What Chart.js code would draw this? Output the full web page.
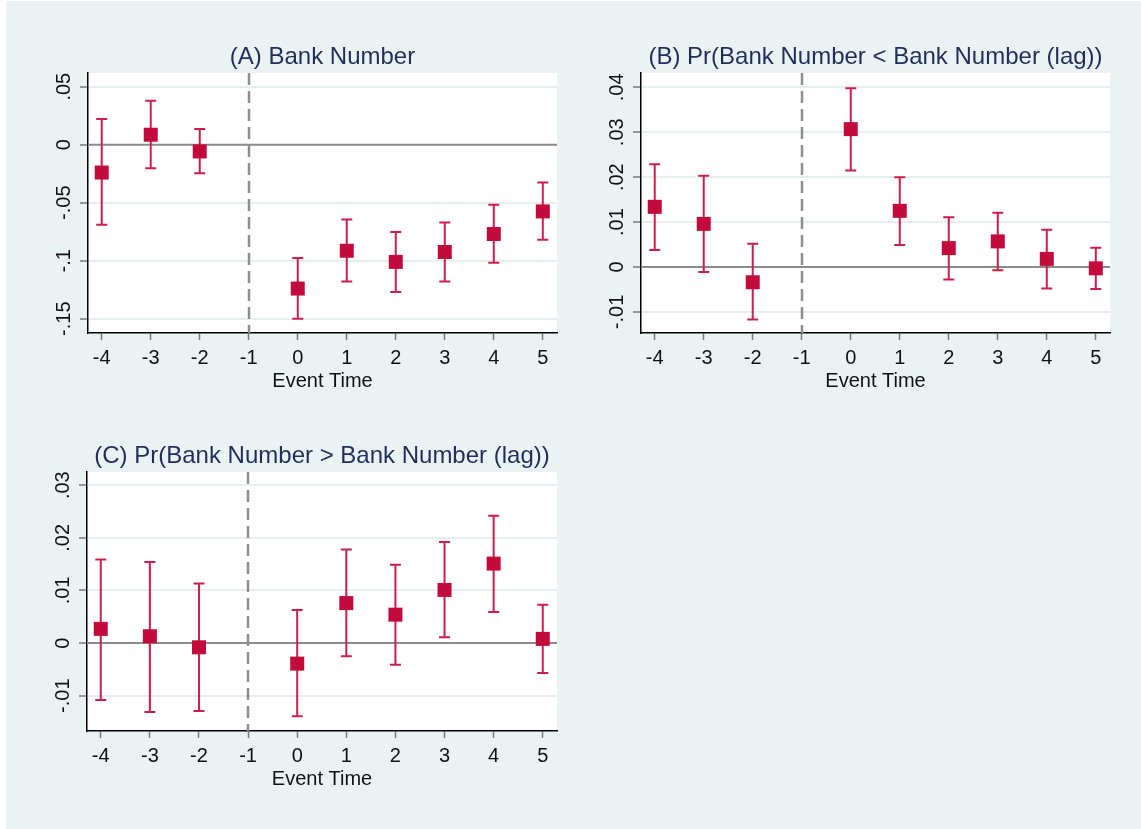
<!DOCTYPE html>
<html>
<head>
<meta charset="utf-8">
<script src="https://cdn.jsdelivr.net/npm/chart.js@4.4.1/dist/chart.umd.min.js"></script>
<style>
  html, body { margin: 0; padding: 0; background: #ffffff; }
  body { width: 1141px; height: 829px; position: relative; overflow: hidden; }
  #bg { position: absolute; left: 6px; top: 1px; width: 1135px; height: 828px; background: #EAF2F3; }
  .box { position: absolute; }
  .box canvas { display: block; }
</style>
</head>
<body>
<div id="bg"></div>
<div class="box" id="boxA" style="left:0px;top:0px;width:580px;height:400px;"><canvas id="cA"></canvas></div>
<div class="box" id="boxB" style="left:560px;top:0px;width:581px;height:400px;"><canvas id="cB"></canvas></div>
<div class="box" id="boxC" style="left:0px;top:400px;width:580px;height:429px;"><canvas id="cC"></canvas></div>
<script>
// ---------------- DATA ----------------
const xTicks = [-4, -3, -2, -1, 0, 1, 2, 3, 4, 5];
const xTickLabels = ['-4', '-3', '-2', '-1', '0', '1', '2', '3', '4', '5'];
const eventTimes = [-4, -3, -2, 0, 1, 2, 3, 4, 5];
const xAxisTitle = 'Event Time';

const titleA = '(A) Bank Number';
const coefA = [-0.0240, 0.0086, -0.0058, -0.1240, -0.0914, -0.1010, -0.0925, -0.0770, -0.0575];
const loA   = [-0.0690, -0.0204, -0.0247, -0.1500, -0.1180, -0.1270, -0.1180, -0.1017, -0.0819];
const hiA   = [0.0221, 0.0379, 0.0135, -0.0977, -0.0644, -0.0753, -0.0670, -0.0517, -0.0325];
const yTicksA = [-0.15, -0.1, -0.05, 0, 0.05];
const yLabelsA = ['-.15', '-.1', '-.05', '0', '.05'];

const titleB = '(B) Pr(Bank Number < Bank Number (lag))';
const coefB = [0.0134, 0.0096, -0.0034, 0.0307, 0.0125, 0.0042, 0.0057, 0.0018, -0.0003];
const loB   = [0.0038, -0.0011, -0.0117, 0.0215, 0.0049, -0.0028, -0.0007, -0.0048, -0.0049];
const hiB   = [0.0229, 0.0203, 0.0052, 0.0398, 0.0200, 0.0111, 0.0121, 0.0083, 0.0043];
const yTicksB = [-0.01, 0, 0.01, 0.02, 0.03, 0.04];
const yLabelsB = ['-.01', '0', '.01', '.02', '.03', '.04'];

const titleC = '(C) Pr(Bank Number > Bank Number (lag))';
const coefC = [0.0027, 0.0013, -0.0008, -0.0039, 0.0076, 0.0054, 0.0101, 0.0151, 0.0008];
const loC   = [-0.0108, -0.0131, -0.0129, -0.0139, -0.0025, -0.0041, 0.0011, 0.0059, -0.0057];
const hiC   = [0.0159, 0.0154, 0.0113, 0.0063, 0.0178, 0.0149, 0.0192, 0.0242, 0.0073];
const yTicksC = [-0.01, 0, 0.01, 0.02, 0.03];
const yLabelsC = ['-.01', '0', '.01', '.02', '.03'];

const eventLine = -1;

// ---------------- STYLE ----------------
const FONT = "'Liberation Sans', Arial, Helvetica, sans-serif";
const MARK = '#C20A3C';
const BAR = '#CD1E4B';
const TITLE_COLOR = '#1F2E5A';

Chart.defaults.devicePixelRatio = 1;

const stataPlugin = {
  id: 'stata',
  beforeDraw(chart) {
    const a = chart.chartArea, ctx = chart.ctx;
    ctx.save();
    ctx.fillStyle = '#ffffff';
    ctx.fillRect(a.left, a.top, a.right - a.left, a.bottom - a.top);
    ctx.restore();
  },
  beforeDatasetsDraw(chart) {
    const a = chart.chartArea, ctx = chart.ctx;
    const xs = chart.scales.x, ys = chart.scales.y;
    const meta = chart.config.options.plugins.stata;
    ctx.save();
    // zero line
    const y0 = ys.getPixelForValue(0);
    ctx.strokeStyle = '#8C8C8C';
    ctx.lineWidth = 2;
    ctx.beginPath(); ctx.moveTo(a.left, y0); ctx.lineTo(a.right, y0); ctx.stroke();
    // dashed event line
    const xe = Math.round(xs.getPixelForValue(eventLine));
    ctx.strokeStyle = '#8E8E8E';
    ctx.lineWidth = 2.5;
    ctx.setLineDash([12, 6]);
    ctx.beginPath(); ctx.moveTo(xe, a.top); ctx.lineTo(xe, a.bottom); ctx.stroke();
    ctx.setLineDash([]);
    // error bars
    ctx.strokeStyle = BAR;
    ctx.lineWidth = 2;
    for (let i = 0; i < eventTimes.length; i++) {
      const px = xs.getPixelForValue(eventTimes[i]);
      const pl = ys.getPixelForValue(meta.lo[i]);
      const ph = ys.getPixelForValue(meta.hi[i]);
      ctx.beginPath();
      ctx.moveTo(px, ph); ctx.lineTo(px, pl);
      ctx.moveTo(px - 5.5, ph); ctx.lineTo(px + 5.5, ph);
      ctx.moveTo(px - 5.5, pl); ctx.lineTo(px + 5.5, pl);
      ctx.stroke();
    }
    ctx.restore();
  },
  afterDraw(chart) {
    const a = chart.chartArea, ctx = chart.ctx;
    const xs = chart.scales.x, ys = chart.scales.y;
    const meta = chart.config.options.plugins.stata;
    ctx.save();
    ctx.fillStyle = '#111111';
    ctx.font = '20px ' + FONT;
    // x tick labels
    ctx.textAlign = 'center';
    ctx.textBaseline = 'alphabetic';
    xTicks.forEach((v, i) => {
      ctx.fillText(xTickLabels[i], xs.getPixelForValue(v), a.bottom + 31);
    });
    // x axis title
    ctx.fillText(xAxisTitle, (a.left + a.right) / 2, a.bottom + 54);
    // y tick labels (rotated)
    meta.yTicks.forEach((v, i) => {
      const py = ys.getPixelForValue(v);
      ctx.save();
      ctx.translate(a.left - 18, py);
      ctx.rotate(-Math.PI / 2);
      ctx.textAlign = 'center';
      ctx.textBaseline = 'alphabetic';
      ctx.fillText(meta.yLabels[i], 0, 0);
      ctx.restore();
    });
    // title
    ctx.fillStyle = TITLE_COLOR;
    ctx.font = '24px ' + FONT;
    ctx.textAlign = 'center';
    ctx.fillText(meta.title, (a.left + a.right) / 2, a.top - 9);
    ctx.restore();
  }
};

function makeChart(id, title, coef, lo, hi, yTicks, yLabels, yMin, yMax, pad) {
  const data = eventTimes.map((t, i) => ({ x: t, y: coef[i] }));
  return new Chart(document.getElementById(id), {
    type: 'scatter',
    data: {
      datasets: [{
        data: data,
        pointStyle: 'rect',
        pointRadius: 9.9,
        pointHoverRadius: 9.9,
        pointBackgroundColor: MARK,
        pointBorderWidth: 0,
        borderWidth: 0,
        showLine: false
      }]
    },
    options: {
      responsive: true,
      maintainAspectRatio: false,
      animation: false,
      events: [],
      layout: { padding: pad },
      plugins: {
        legend: { display: false },
        tooltip: { enabled: false },
        title: { display: false },
        stata: { title: title, lo: lo, hi: hi, yTicks: yTicks, yLabels: yLabels }
      },
      scales: {
        x: {
          type: 'linear',
          min: -4.28,
          max: 5.29,
          afterBuildTicks: (s) => { s.ticks = xTicks.map(v => ({ value: v })); },
          afterFit: (s) => { s.height = 60; },
          ticks: { display: false },
          grid: { drawOnChartArea: false, drawTicks: true, tickLength: 7, tickColor: '#7A7A7A', tickWidth: 1.5 },
          border: { display: true, color: '#000000', width: 1.5 }
        },
        y: {
          type: 'linear',
          min: yMin,
          max: yMax,
          afterBuildTicks: (s) => { s.ticks = yTicks.map(v => ({ value: v })); },
          afterFit: (s) => { s.width = 50; },
          ticks: { display: false },
          grid: { color: '#E6EEF0', lineWidth: 2, drawTicks: true, tickLength: 8, tickColor: '#7A7A7A', tickWidth: 1.5 },
          border: { display: true, color: '#000000', width: 1.5 }
        }
      }
    },
    plugins: [stataPlugin]
  });
}

makeChart('cA', titleA, coefA, loA, hiA, yTicksA, yLabelsA, -0.1623, 0.0618,
  { left: 38, right: 23, top: 73, bottom: 7 });
makeChart('cB', titleB, coefB, loB, hiB, yTicksB, yLabelsB, -0.0147, 0.0432,
  { left: 31, right: 31, top: 73, bottom: 7 });
makeChart('cC', titleC, coefC, loC, hiC, yTicksC, yLabelsC, -0.0167, 0.0325,
  { left: 37, right: 23, top: 72, bottom: 38 });
</script>
</body>
</html>
